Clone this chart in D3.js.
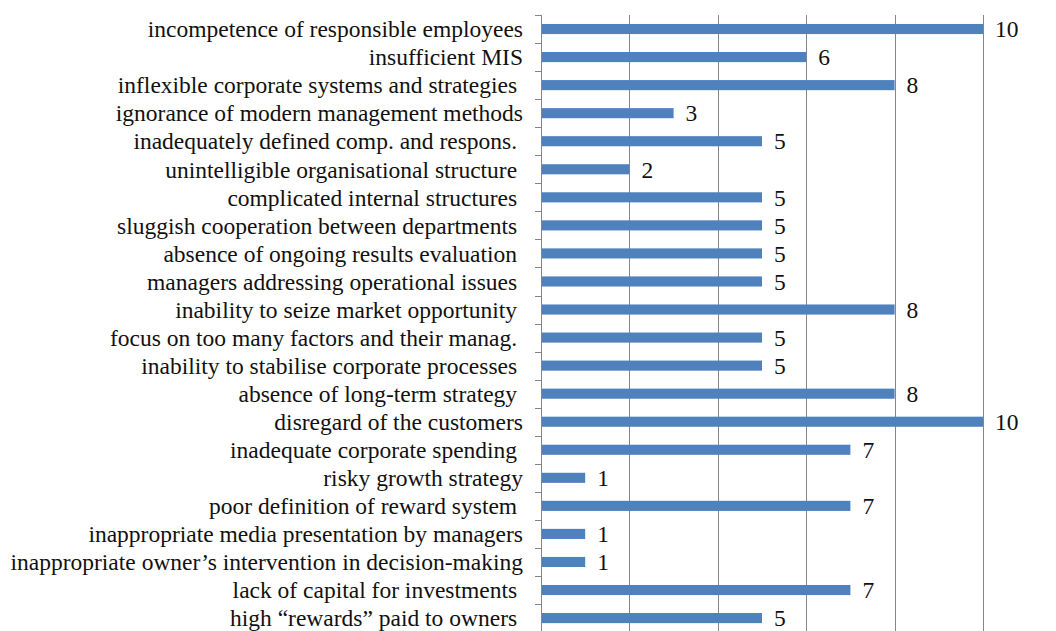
<!DOCTYPE html>
<html>
<head>
    <meta charset="UTF-8">
    <script src="https://d3js.org/d3.v7.min.js"></script>
    <style>
        body { margin: 0; background: #fff; }
    </style>
</head>
<body>
<svg width="1056" height="631"></svg>
<script>
    var width = 1056,
        height = 631

    // categories top to bottom (trailing spaces are in the original labels)
    var categories = [
        "incompetence of responsible employees",
        "insufficient MIS",
        "inflexible corporate systems and strategies ",
        "ignorance of modern management methods",
        "inadequately defined comp. and respons. ",
        "unintelligible organisational structure ",
        "complicated internal structures ",
        "sluggish cooperation between departments ",
        "absence of ongoing results evaluation ",
        "managers addressing operational issues ",
        "inability to seize market opportunity ",
        "focus on too many factors and their manag. ",
        "inability to stabilise corporate processes ",
        "absence of long-term strategy ",
        "disregard of the customers",
        "inadequate corporate spending ",
        "risky growth strategy",
        "poor definition of reward system ",
        "inappropriate media presentation by managers",
        "inappropriate owner\u2019s intervention in decision-making",
        "lack of capital for investments ",
        "high \u201crewards\u201d paid to owners "
    ];
    var values = [10, 6, 8, 3, 5, 2, 5, 5, 5, 5, 8, 5, 5, 8, 10, 7, 1, 7, 1, 1, 7, 5];
    var gridTicks = [2, 4, 6, 8, 10];

    var data = categories.map(function(c, i) { return {name: c, value: values[i]}; });

    var axisX = 541, axisTop = 15, band = 28.05;
    var serif = "'Liberation Serif'";

    var x = d3.scaleLinear().domain([0, 10]).range([axisX, 983]);
    var y = d3.scaleBand()
        .domain(categories)
        .range([axisTop, axisTop + band * categories.length])
        .paddingInner(0.64)
        .paddingOuter(0.32);

    var svg = d3.select("svg");

    // vertical gridlines
    svg.selectAll("line.grid")
        .data(gridTicks)
        .enter()
        .append("line")
        .attr("class", "grid")
        .attr("x1", function(d) { return Math.round(x(d)) + 0.5; })
        .attr("x2", function(d) { return Math.round(x(d)) + 0.5; })
        .attr("y1", axisTop)
        .attr("y2", height + 5)
        .attr("stroke", "#868686")
        .attr("stroke-width", 1);

    // category axis with ticks between bands
    var bounds = d3.range(categories.length + 1).map(function(i) { return axisTop + i * band; });
    svg.selectAll("line.tick")
        .data(bounds)
        .enter()
        .append("line")
        .attr("class", "tick")
        .attr("x1", axisX - 6)
        .attr("x2", axisX)
        .attr("y1", function(d) { return Math.round(d) + 0.5; })
        .attr("y2", function(d) { return Math.round(d) + 0.5; })
        .attr("stroke", "#868686");

    svg.append("line")
        .attr("x1", axisX + 0.5)
        .attr("x2", axisX + 0.5)
        .attr("y1", axisTop)
        .attr("y2", height + 5)
        .attr("stroke", "#868686");

    // bars
    svg.selectAll("rect.bar")
        .data(data)
        .enter()
        .append("rect")
        .attr("class", "bar")
        .attr("x", x(0) + 1)
        .attr("y", function(d) { return y(d.name); })
        .attr("width", function(d) { return x(d.value) - x(0) - 1; })
        .attr("height", y.bandwidth())
        .attr("fill", "#4F81BD");

    // category labels
    var fs = 23.5;
    svg.selectAll("text.label")
        .data(data)
        .enter()
        .append("text")
        .attr("class", "label")
        .attr("x", 523)
        .attr("y", function(d) { return y(d.name) + y.bandwidth() / 2; })
        .attr("dy", "0.35em")
        .attr("text-anchor", "end")
        .style("font-family", serif)
        .style("font-size", fs + "px")
        .style("fill", "#111")
        .style("white-space", "pre")
        .text(function(d) { return d.name; });

    // value labels
    svg.selectAll("text.value")
        .data(data)
        .enter()
        .append("text")
        .attr("class", "value")
        .attr("x", function(d) { return x(d.value) + 12; })
        .attr("y", function(d) { return y(d.name) + y.bandwidth() / 2; })
        .attr("dy", "0.35em")
        .style("font-family", serif)
        .style("font-size", fs + "px")
        .style("fill", "#111")
        .text(function(d) { return d.value; });
</script>
</body>
</html>
